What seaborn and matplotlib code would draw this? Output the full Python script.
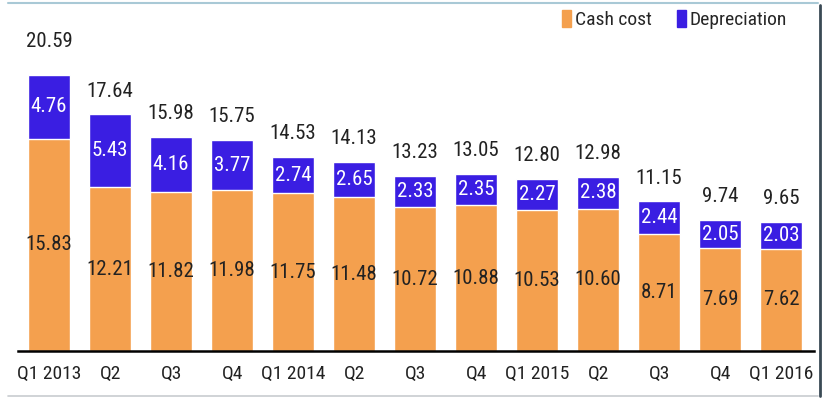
import matplotlib
matplotlib.use("Agg")
import matplotlib.pyplot as plt
from matplotlib.lines import Line2D
from matplotlib.patches import Patch
import seaborn as sns
import pandas as pd

quarters = ["Q1 2013", "Q2", "Q3", "Q4", "Q1 2014", "Q2", "Q3", "Q4",
            "Q1 2015", "Q2", "Q3", "Q4", "Q1 2016"]
cash_cost = [15.83, 12.21, 11.82, 11.98, 11.75, 11.48, 10.72, 10.88,
             10.53, 10.60, 8.71, 7.69, 7.62]
depreciation = [4.76, 5.43, 4.16, 3.77, 2.74, 2.65, 2.33, 2.35,
                2.27, 2.38, 2.44, 2.05, 2.03]
totals = [20.59, 17.64, 15.98, 15.75, 14.53, 14.13, 13.23, 13.05,
          12.80, 12.98, 11.15, 9.74, 9.65]

orange = "#F4A04E"
blue = "#3A1EE2"

sns.set_style("white")
plt.rcParams["font.family"] = ["Roboto Condensed", "Liberation Sans", "DejaVu Sans"]

df = pd.DataFrame({"pos": [str(i) for i in range(len(quarters))],
                   "cash": cash_cost, "dep": depreciation})
df["stack"] = df["cash"] + df["dep"]

fig = plt.figure(figsize=(8.26, 3.99), dpi=100)
ax = fig.add_axes([18 / 826, 48 / 399, 796 / 826, 346 / 399])

sns.barplot(data=df, x="pos", y="stack", color=blue, width=0.7,
            saturation=1, ax=ax)
sns.barplot(data=df, x="pos", y="cash", color=orange, width=0.7,
            saturation=1, ax=ax)

for i, row in df.iterrows():
    ax.text(i, row["cash"] / 2, f"{row['cash']:.2f}", ha="center", va="center",
            fontsize=15, color="#222222")
    ax.text(i, row["cash"] + row["dep"] / 2, f"{row['dep']:.2f}", ha="center",
            va="center", fontsize=15, color="white")
    ax.annotate(f"{totals[i]:.2f}", (i, row["stack"]), xytext=(0, 17 if i == 0 else 10),
                textcoords="offset points", ha="center", va="bottom",
                fontsize=15, color="#222222")

ax.set_xlim(-0.51, 12.54)
ax.set_ylim(0, 25.8)
ax.set_xticks(range(len(quarters)))
ax.set_xticklabels(quarters, fontsize=14, color="#222222")
ax.tick_params(axis="x", length=0, pad=10)
ax.set_yticks([])
ax.set_xlabel("")
ax.set_ylabel("")
for s in ["top", "right", "left"]:
    ax.spines[s].set_visible(False)
ax.spines["bottom"].set_color("black")
ax.spines["bottom"].set_linewidth(1.8)

handles = [Patch(color=orange, label="Cash cost"),
           Patch(color=blue, label="Depreciation")]
ax.legend(handles=handles, loc="upper right", bbox_to_anchor=(0.988, 1.037),
          ncol=2, frameon=False, fontsize=14, handlelength=0.45, handleheight=1.0,
          handletextpad=0.2, columnspacing=1.3)

# image frame lines
fig.add_artist(Line2D([8 / 826, 818 / 826], [1 - 3 / 399, 1 - 3 / 399],
                      color="#A9C9D6", lw=1.5, transform=fig.transFigure))
fig.add_artist(Line2D([820 / 826, 820 / 826], [1 - 5 / 399, 1 - 396 / 399],
                      color="#3A4A55", lw=2, transform=fig.transFigure))
fig.add_artist(Line2D([8 / 826, 818 / 826], [1 - 396 / 399, 1 - 396 / 399],
                      color="#C8CCD0", lw=1.2, transform=fig.transFigure))

fig.savefig("out.png", dpi=100)
